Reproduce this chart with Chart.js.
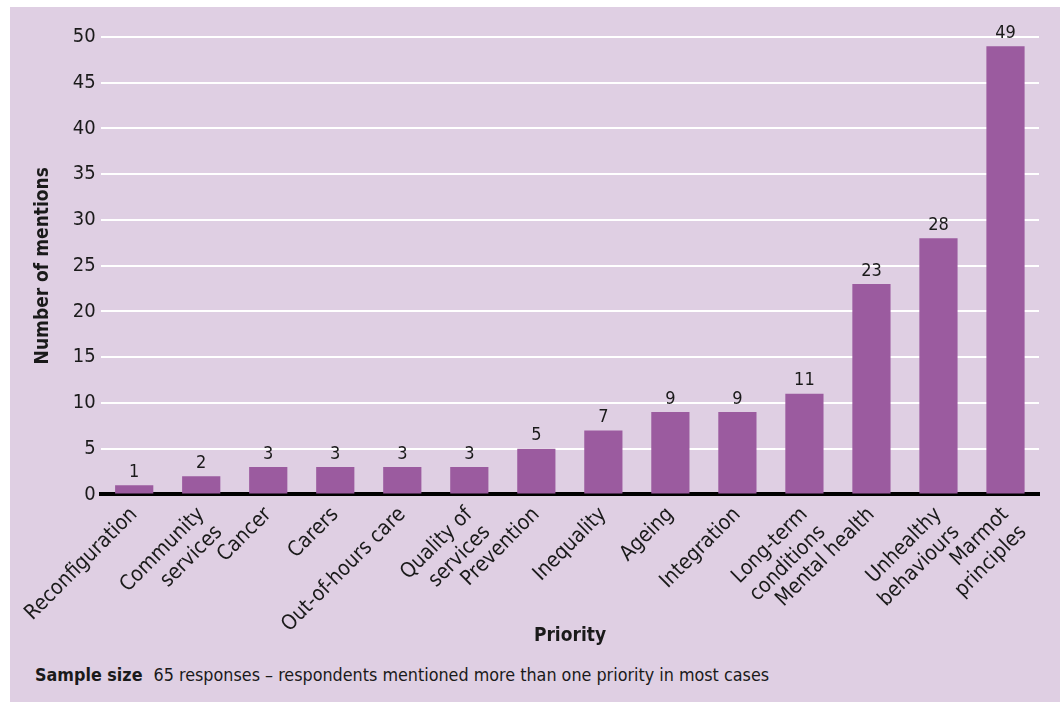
<!DOCTYPE html>
<html>
<head>
<meta charset="utf-8">
<script src="https://cdn.jsdelivr.net/npm/chart.js@4.4.1/dist/chart.umd.min.js"></script>
<style>
  body { margin: 0; background: #ffffff; }
  #panel { position: absolute; left: 10px; top: 7px; width: 1050px; height: 695px; background: #dfcfe3;
           font-family: "DejaVu Sans Condensed", "Open Sans", sans-serif; color: #1a1a1a; }
  #wrap { position: absolute; left: 0; top: 0; width: 1050px; height: 656px; }
  #xtitle { position: absolute; left: 500px; top: 617px; width: 120px; text-align: center;
            font-size: 19px; font-weight: 700; line-height: 20px; }
  #note { position: absolute; left: 25px; top: 657px; font-size: 17.8px; }
  #note b { font-weight: 700; margin-right: 6px; }
</style>
</head>
<body>
<div id="panel">
  <div id="wrap"><canvas id="chart" width="1050" height="656"></canvas></div>
  <div id="xtitle">Priority</div>
  <div id="note"><b>Sample size</b> 65 responses – respondents mentioned more than one priority in most cases</div>
</div>
<script>
// categories (multi-line labels as arrays)
const priorities = [
    'Reconfiguration',
    ['Community', 'services'],
    'Cancer',
    'Carers',
    'Out-of-hours care',
    ['Quality of', 'services'],
    'Prevention',
    'Inequality',
    'Ageing',
    'Integration',
    ['Long-term', 'conditions'],
    'Mental health',
    ['Unhealthy', 'behaviours'],
    ['Marmot', 'principles']
];
const mentions = [1, 2, 3, 3, 3, 3, 5, 7, 9, 9, 11, 23, 28, 49];
const yTicks = [0, 5, 10, 15, 20, 25, 30, 35, 40, 45, 50];

const fontFamily = '"DejaVu Sans Condensed", "Open Sans", sans-serif';
const textColor = '#1a1a1a';

// draws the value above each bar
const valueLabels = {
    id: 'valueLabels',
    afterDatasetsDraw(chart) {
        const ctx = chart.ctx;
        const meta = chart.getDatasetMeta(0);
        ctx.save();
        ctx.font = '18px ' + fontFamily;
        ctx.fillStyle = textColor;
        ctx.textAlign = 'center';
        ctx.textBaseline = 'bottom';
        meta.data.forEach((bar, i) => {
            ctx.fillText(String(mentions[i]), bar.x, bar.y - 4);
        });
        ctx.restore();
    }
};

window.addEventListener('load', function() {
    const ctx = document.getElementById('chart').getContext('2d');
    new Chart(ctx, {
        type: 'bar',
        data: {
            labels: priorities,
            datasets: [{
                label: 'Number of mentions',
                data: mentions,
                backgroundColor: '#9b5b9f',
                borderWidth: 0,
                barPercentage: 0.57,
                categoryPercentage: 1.0
            }]
        },
        options: {
            responsive: false,
            animation: false,
            layout: { padding: { top: 30, right: 21, left: 18, bottom: 0 } },
            plugins: {
                legend: { display: false },
                tooltip: { enabled: false }
            },
            scales: {
                x: {
                    grid: { display: false, drawTicks: false },
                    border: { display: true, color: '#000000', width: 4 },
                    ticks: {
                        color: textColor,
                        font: { family: fontFamily, size: 21 },
                        minRotation: 45,
                        maxRotation: 45,
                        autoSkip: false,
                        padding: 8
                    }
                },
                y: {
                    min: 0,
                    max: 50,
                    afterBuildTicks(scale) {
                        scale.ticks = yTicks.map(v => ({ value: v }));
                    },
                    grid: { color: '#ffffff', lineWidth: 2, drawTicks: false },
                    border: { display: false },
                    ticks: {
                        color: textColor,
                        font: { family: fontFamily, size: 20 },
                        padding: 5
                    },
                    title: {
                        display: true,
                        text: 'Number of mentions',
                        color: textColor,
                        font: { family: fontFamily, size: 19, weight: 'bold' },
                        padding: { bottom: 13 }
                    }
                }
            }
        },
        plugins: [valueLabels]
    });
});
</script>
</body>
</html>
